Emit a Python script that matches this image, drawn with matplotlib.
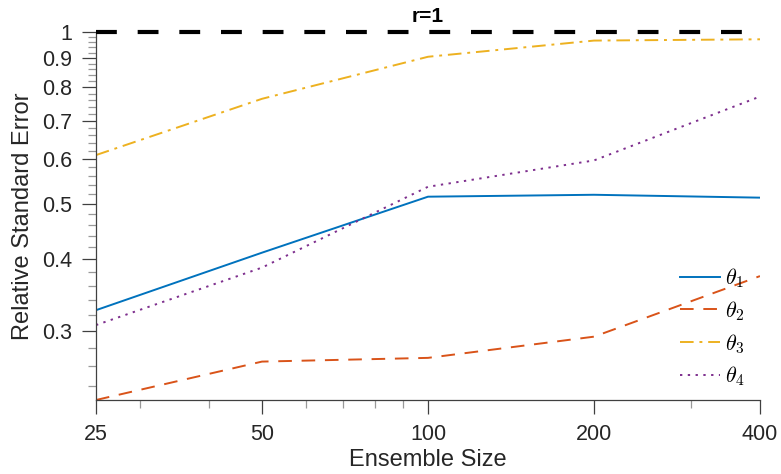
import numpy as np
import matplotlib
matplotlib.use('Agg')
from matplotlib import pyplot as plt
from matplotlib.ticker import FixedLocator, NullFormatter

plt.rcParams['font.family'] = ['Liberation Sans', 'DejaVu Sans']
plt.rcParams['mathtext.fontset'] = 'cm'

# data
ensemble = [25, 50, 100, 200, 400]
theta1 = [0.326, 0.411, 0.515, 0.519, 0.513]
theta2 = [0.227, 0.265, 0.269, 0.293, 0.374]
theta3 = [0.609, 0.764, 0.905, 0.966, 0.971]
theta4 = [0.307, 0.387, 0.536, 0.596, 0.771]
labels = [r'$\theta_1$', r'$\theta_2$', r'$\theta_3$', r'$\theta_4$']

gray = '#404040'

fig = plt.figure(figsize=(7.81, 4.74), dpi=100)
ax = fig.add_axes([0.1229, 0.1561, 0.8502, 0.7764])

ax.plot(ensemble, theta1, color='#0072BD', lw=1.4, label=labels[0])
ax.plot(ensemble, theta2, color='#D95319', lw=1.4, dashes=(7, 5), label=labels[1])
ax.plot(ensemble, theta3, color='#EDB120', lw=1.4, dashes=(7, 3, 1.5, 3), label=labels[2])
ax.plot(ensemble, theta4, color='#7E2F8E', lw=1.4, dashes=(1.2, 2.8), label=labels[3])
ax.axhline(1, color='black', lw=3, dashes=(5, 5), zorder=5, clip_on=False)

ax.set_xscale('log')
ax.set_yscale('log')
ax.set_xlim(25, 400)
ax.set_ylim(0.227, 1)

ax.xaxis.set_major_locator(FixedLocator(ensemble))
ax.set_xticklabels([str(v) for v in ensemble])
ax.xaxis.set_minor_locator(FixedLocator([30, 40, 60, 70, 80, 90, 300]))
ax.xaxis.set_minor_formatter(NullFormatter())

yt = [0.3, 0.4, 0.5, 0.6, 0.7, 0.8, 0.9, 1]
ax.yaxis.set_major_locator(FixedLocator(yt))
ax.set_yticklabels(['0.3', '0.4', '0.5', '0.6', '0.7', '0.8', '0.9', '1'])
ym = [v for v in np.round(np.arange(0.24, 1.0, 0.02), 2) if round(v * 10, 6) % 1 != 0]
ax.yaxis.set_minor_locator(FixedLocator(ym))
ax.yaxis.set_minor_formatter(NullFormatter())

for s in ['top', 'right']:
    ax.spines[s].set_visible(False)
for s in ['left', 'bottom']:
    ax.spines[s].set_color(gray)
    ax.spines[s].set_linewidth(0.9)

ax.tick_params(which='major', direction='out', length=10, width=0.9, color=gray,
               labelsize=15.5, labelcolor='#262626')
ax.tick_params(which='minor', direction='out', length=5.5, width=0.9, color='#999999')
ax.tick_params(axis='x', which='major', pad=7)
ax.tick_params(axis='y', which='major', pad=7)

ax.set_xlabel('Ensemble Size', fontsize=17, color='#262626', labelpad=3)
ax.set_ylabel('Relative Standard Error', fontsize=17, color='#262626', labelpad=6)
ax.set_title('r=1', fontsize=15, fontweight='bold', pad=7)

ax.legend(loc='lower right', bbox_to_anchor=(0.99, 0.008), borderaxespad=0,
          frameon=False, fontsize=16, handlelength=1.8, labelspacing=0.4,
          handletextpad=0.2)

plt.savefig('out.png', dpi=100)
